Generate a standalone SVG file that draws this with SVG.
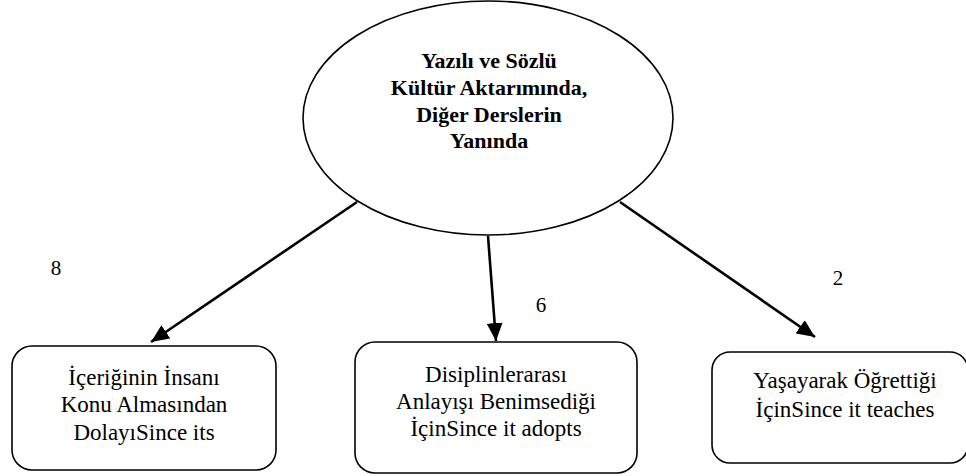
<svg xmlns="http://www.w3.org/2000/svg" width="966" height="476" viewBox="0 0 966 476">
<style>
.node{fill:#fff;stroke:#000;stroke-width:1.6}
.t{font-family:"Liberation Serif","Times New Roman",serif;font-size:23px;fill:#000;text-anchor:middle}
.tb{font-family:"Liberation Serif","Times New Roman",serif;font-size:22px;font-weight:bold;fill:#000;text-anchor:middle}
.num{font-family:"Liberation Serif","Times New Roman",serif;font-size:21px;fill:#000;text-anchor:middle}
.edge{stroke:#000;stroke-width:2.6;fill:none;marker-end:url(#ah)}
</style>
<defs>
<marker id="ah" markerUnits="userSpaceOnUse" markerWidth="20" markerHeight="16" refX="18" refY="8" orient="auto">
<path d="M0,0 L18,8 L0,16 Z" fill="#000"/>
</marker>
</defs>
<rect width="966" height="476" fill="#fff"/>
<g id="root">
<ellipse class="node" cx="488" cy="118" rx="185" ry="117"/>
<text class="tb" x="489" y="68">Yazılı ve Sözlü</text>
<text class="tb" x="489" y="95">Kültür Aktarımında,</text>
<text class="tb" x="489" y="122">Diğer Derslerin</text>
<text class="tb" x="489" y="148">Yanında</text>
</g>
<g id="connectors">
<line class="edge" x1="357" y1="202" x2="151" y2="342"/>
<line class="edge" x1="488" y1="236" x2="496" y2="341"/>
<line class="edge" x1="620" y1="202" x2="815" y2="337"/>
</g>
<g id="labels">
<text class="num" x="56" y="275">8</text>
<text class="num" x="541" y="312">6</text>
<text class="num" x="838" y="285">2</text>
</g>
<g id="box1">
<rect class="node" x="12" y="346" width="264" height="124" rx="20"/>
<text class="t" x="144" y="385">İçeriğinin İnsanı</text>
<text class="t" x="144" y="412">Konu Almasından</text>
<text class="t" x="144" y="440">DolayıSince its</text>
</g>
<g id="box2">
<rect class="node" x="355" y="342" width="282" height="131" rx="20"/>
<text class="t" x="496" y="382">Disiplinlerarası</text>
<text class="t" x="496" y="409">Anlayışı Benimsediği</text>
<text class="t" x="496" y="436">İçinSince it adopts</text>
</g>
<g id="box3">
<rect class="node" x="712" y="352" width="256" height="111" rx="18"/>
<text class="t" x="845" y="388">Yaşayarak Öğrettiği</text>
<text class="t" x="845" y="417">İçinSince it teaches</text>
</g>
</svg>
